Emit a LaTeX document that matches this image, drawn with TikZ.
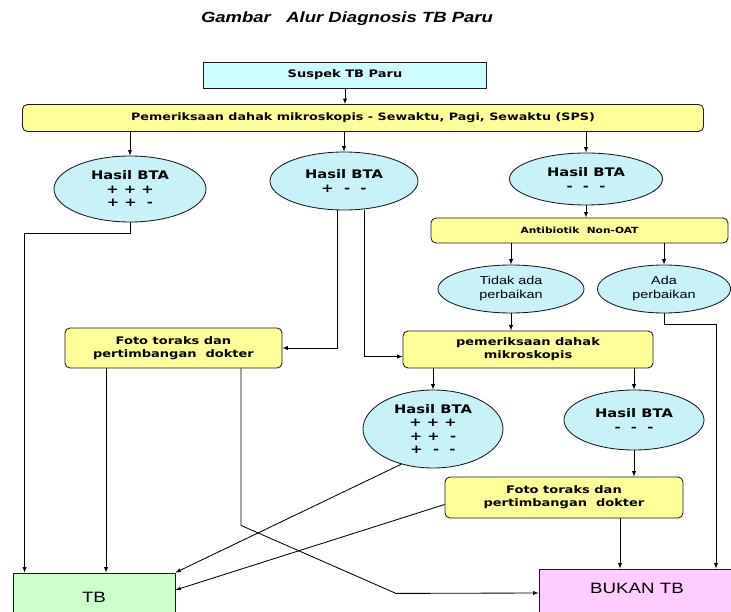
\documentclass[tikz,border=0pt]{standalone}
\usepackage{fontspec}
\setmainfont{DejaVu Sans}[FakeStretch=1.25]
\newfontfamily\judulfont{Liberation Sans}[FakeStretch=1.25]
\usepackage{tikz}
\usetikzlibrary{arrows,shapes.geometric}

\definecolor{biru}{HTML}{CCFFFF}
\definecolor{birumuda}{HTML}{C8F2F8}
\definecolor{kuning}{HTML}{FFFF99}
\definecolor{hijau}{HTML}{CCFFCC}
\definecolor{merahmuda}{HTML}{FFCCFF}

\begin{document}
\begin{tikzpicture}[x=1pt, y=-1pt, >=latex, line width=0.85pt,
    kotak/.style={draw=black!90, fill=biru, inner sep=0pt, align=center,
      font=\bfseries\fontsize{10.4}{13}\selectfont},
    proses/.style={kotak, fill=kuning, rounded corners=5pt},
    hasil/.style={ellipse, draw=black!90, fill=birumuda, inner sep=0pt, align=center,
      font=\bfseries\fontsize{11.8}{13.5}\selectfont},
    perbaikan/.style={hasil, font=\judulfont\fontsize{11.5}{14}\selectfont},
    keputusan/.style={draw=black!90, inner sep=0pt,
      font=\judulfont\fontsize{15}{18}\selectfont, text height=11pt}]
  \useasboundingbox (0,0) rectangle (731,612);
  \fill[white] (0,0) rectangle (731,612);
  \clip (0,0) rectangle (731,612);

  \node[font=\judulfont\bfseries\itshape\fontsize{14.8}{17}\selectfont] (judul) at (347,19)
    {Gambar\ \ \ Alur Diagnosis TB Paru};

  \node[kotak, minimum width=283, minimum height=26] (suspek) at (345,75) {Suspek TB Paru};
  \node[proses, minimum width=681, minimum height=27, font=\bfseries\fontsize{10.2}{12}\selectfont]
    (periksa) at (363,118) {Pemeriksaan dahak mikroskopis - Sewaktu, Pagi, Sewaktu (SPS)};

  \node[hasil, minimum width=152, minimum height=66] (bta1) at (130,189) {Hasil BTA\\+ + +\\+ +\ \ -};
  \node[hasil, minimum width=148, minimum height=58] (bta2) at (344,181) {Hasil BTA\\+\ \ -\ \ -};
  \node[hasil, minimum width=153, minimum height=52] (bta3) at (586,179) {Hasil BTA\\-\ \ -\ \ -};

  \node[proses, minimum width=297, minimum height=25, font=\bfseries\fontsize{8.5}{10}\selectfont]
    (antibiotik) at (579.5,230.5) {Antibiotik\ \ Non-OAT};
  \node[perbaikan, minimum width=146, minimum height=48] (tidak) at (511,289) {Tidak ada\\perbaikan};
  \node[perbaikan, minimum width=133, minimum height=48] (ada) at (664,289) {Ada\\perbaikan};

  \node[proses, minimum width=217, minimum height=40] (foto1) at (173.5,348)
    {Foto toraks dan\\pertimbangan\ \ dokter};
  \node[proses, minimum width=250, minimum height=37] (periksa2) at (528,349.5)
    {pemeriksaan dahak\\mikroskopis};

  \node[hasil, minimum width=140, minimum height=78] (bta4) at (433,429)
    {Hasil BTA\\+ + +\\+ +\ \ -\\+\ \ -\ \ -};
  \node[hasil, minimum width=140, minimum height=60] (bta5) at (634,420) {Hasil BTA\\-\ \ -\ \ -};

  \node[proses, minimum width=238, minimum height=41] (foto2) at (564,497.5)
    {Foto toraks dan\\pertimbangan\ \ dokter};

  \node[keputusan, fill=hijau, minimum width=162, minimum height=48, text depth=0pt] (tb) at (94,597) {TB};
  \node[keputusan, fill=merahmuda, minimum width=196, minimum height=48, text depth=10pt] (bukan) at (637,593) {BUKAN TB};

  \draw[->] (suspek.south) -- (suspek.south |- periksa.north);
  \draw[->] (bta1.north |- periksa.south) -- (bta1.north);
  \draw[->] (bta2.north |- periksa.south) -- (bta2.north);
  \draw[->] (bta3.north |- periksa.south) -- (bta3.north);

  \draw[->] (bta1.south) -- ++(0,11) -| ([xshift=12pt]tb.north west);
  \draw[->] ([xshift=-7pt]bta2.south) |- (foto1.east);
  \draw[->] ([xshift=20pt]bta2.south) |- ([yshift=-7pt]periksa2.west);

  \draw[->] (bta3.south) -- (bta3.south |- antibiotik.north);
  \draw[->] (tidak.north |- antibiotik.south) -- (tidak.north);
  \draw[->] (ada.north |- antibiotik.south) -- (ada.north);
  \draw[->] (tidak.south) -- (tidak.south |- periksa2.north);
  \draw[->] (ada.south) -- ++(0,11) -| ([xshift=79pt]bukan.north);

  \draw[->] (bta4.north |- periksa2.south) -- (bta4.north);
  \draw[->] (bta5.north |- periksa2.south) -- (bta5.north);
  \draw[->] (bta5.south) -- (bta5.south |- foto2.north);

  \draw[->] ([xshift=-67.5pt]foto1.south) -- ([xshift=-67.5pt]foto1.south |- tb.north);
  \draw[->] ([xshift=67.5pt]foto1.south) -- ++(0,157) -- ++(155,68) -- (bukan.west);
  \draw[->] (bta4.228) -- (tb.north east);
  \draw[->] ([yshift=-7pt]foto2.west) -- ([yshift=7pt]tb.east);
  \draw[->] ([xshift=56pt]foto2.south) -- ([xshift=56pt]foto2.south |- bukan.north);
\end{tikzpicture}
\end{document}
